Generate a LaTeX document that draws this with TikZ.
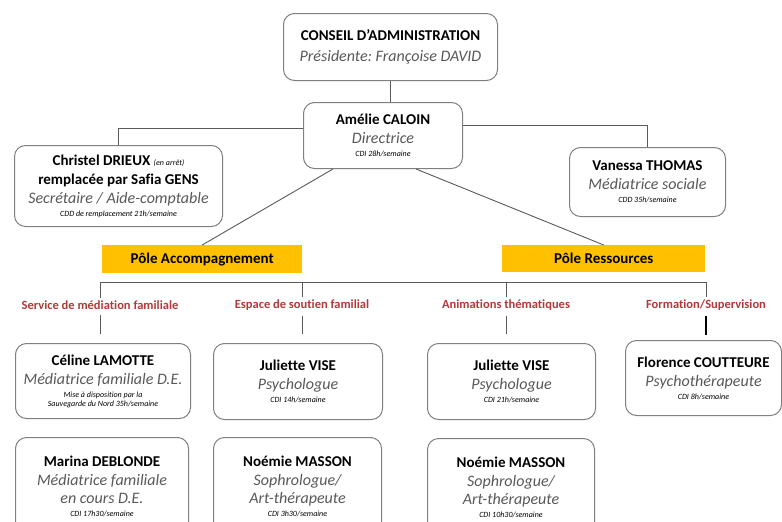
\documentclass[tikz,border=0pt]{standalone}
\usepackage{fontspec}
\setmainfont{Carlito}[Ligatures=NoCommon]
\definecolor{rolegray}{HTML}{595959}
\definecolor{linegray}{HTML}{5A5A5A}
\definecolor{boxgray}{HTML}{808080}
\definecolor{polegold}{HTML}{FFC000}
\definecolor{labred}{HTML}{B03A3A}
\newcommand\nm[1]{{\fontsize{15}{19}\selectfont\bfseries #1}}
\newcommand\rl[1]{{\fontsize{16}{19}\selectfont\itshape\color{rolegray}#1}}
\newcommand\sm[1]{{\fontsize{8}{9}\selectfont\itshape #1}}
\frenchspacing
\begin{document}
\begin{tikzpicture}[x=1pt,y=-1pt,
  pbox/.style={draw=boxgray,line width=1pt,rounded corners=11pt,align=center,anchor=north west,inner sep=0pt,fill=white,font=\fontsize{15}{19}\selectfont},
  pole/.style={fill=polegold,anchor=north west,inner sep=0pt,font=\fontsize{15}{17}\selectfont\bfseries},
  lab/.style={text=labred,font=\fontsize{12.5}{14}\selectfont\bfseries,inner sep=2pt},
  conn/.style={draw=linegray,line width=0.9pt}]
\useasboundingbox (0,0) rectangle (782,522);
\fill[white] (0,0) rectangle (782,522);

% top
\node[pbox,minimum width=214pt,minimum height=67pt] (cons) at (283,13)
  {\nm{CONSEIL D’ADMINISTRATION}\\[2pt]\rl{Présidente: Françoise DAVID}};
\node[pbox,minimum width=159pt,minimum height=66pt] (amel) at (303,102)
  {\nm{Amélie CALOIN}\\\rl{Directrice}\\[-6pt]\sm{CDI 28h/semaine}};
\node[pbox,minimum width=208pt,minimum height=81pt] (chr) at (14,145)
  {\nm{Christel DRIEUX} \sm{(en arrêt)}\\\nm{remplacée par Safia GENS}\\\rl{Secrétaire / Aide-comptable}\\[-6pt]\sm{CDD de remplacement 21h/semaine}};
\node[pbox,minimum width=156pt,minimum height=69pt] (van) at (569,147)
  {\nm{Vanessa THOMAS}\\\rl{Médiatrice sociale}\\[-6pt]\sm{CDD 35h/semaine}};

% poles
\node[pole,minimum width=200pt,minimum height=28pt] (pa) at (102,245) {Pôle Accompagnement};
\node[pole,minimum width=203pt,minimum height=27pt] (pr) at (502,245) {Pôle Ressources};

% labels
\node[lab] (svc) at (100,305) {Service de médiation familiale};
\node[lab] (esp) at (302,305) {Espace de soutien familial};
\node[lab] (anim) at (506,305) {Animations thématiques};
\node[lab] (form) at (706,305) {Formation/Supervision};

% row 1
\node[pbox,minimum width=175pt,minimum height=75pt] (cel) at (15,343)
  {\nm{Céline LAMOTTE}\\\rl{Médiatrice familiale D.E.}\\[-6pt]\sm{Mise à disposition par la}\\[-10pt]\sm{Sauvegarde du Nord 35h/semaine}};
\node[pbox,minimum width=169pt,minimum height=76pt] (jul1) at (213,343)
  {\nm{Juliette VISE}\\\rl{Psychologue}\\[-6pt]\sm{CDI 14h/semaine}};
\node[pbox,minimum width=168pt,minimum height=76pt] (jul2) at (427,343)
  {\nm{Juliette VISE}\\\rl{Psychologue}\\[-6pt]\sm{CDI 21h/semaine}};
\node[pbox,minimum width=156pt,minimum height=75pt] (flo) at (625,340)
  {\nm{Florence COUTTEURE}\\\rl{Psychothérapeute}\\[-6pt]\sm{CDI 8h/semaine}};

% row 2 (cut by the page edge)
\node[pbox,minimum width=173pt,minimum height=98pt] (mar) at (15,437)
  {\nm{Marina DEBLONDE}\\\rl{Médiatrice familiale}\\[-1pt]\rl{en cours D.E.}\\[-6pt]\sm{CDI 17h30/semaine}};
\node[pbox,minimum width=168pt,minimum height=98pt] (noe1) at (213,437)
  {\nm{Noémie MASSON}\\\rl{Sophrologue/}\\[-1pt]\rl{Art-thérapeute}\\[-6pt]\sm{CDI 3h30/semaine}};
\node[pbox,minimum width=167pt,minimum height=97pt] (noe2) at (427,438)
  {\nm{Noémie MASSON}\\\rl{Sophrologue/}\\[-1pt]\rl{Art-thérapeute}\\[-6pt]\sm{CDI 10h30/semaine}};

% connectors
\draw[conn] (cons.south) -- (cons.south |- amel.north);
\draw[conn] ([yshift=7pt]amel.west) -| (chr.north);
\draw[conn] ([yshift=10pt]amel.east) -| (van.north);
\draw[conn] ([xshift=-50pt]amel.south) -- (pa.north);
\draw[conn] ([xshift=33pt]amel.south) -- (pr.north);

\coordinate (b1) at (100,282);
\coordinate (b2) at (302,282);
\coordinate (b3) at (506,282);
\coordinate (b4) at (706,282);
\draw[conn] (svc.north) -- (b1) -- (b4) -- (form.north);
\draw[conn] (esp.north) -- (b2);
\draw[conn] (anim.north) -- (b3);

\coordinate (d1) at (100,334);
\coordinate (d2) at (302,334);
\coordinate (d3) at (506,334);
\coordinate (d4) at (706,335);
\draw[conn,shorten <=3pt] (svc.south) -- (d1);
\draw[conn,shorten <=3pt] (esp.south) -- (d2);
\draw[conn,shorten <=3pt] (anim.south) -- (d3);
\draw[draw=black,line width=1.5pt,shorten <=3pt] (form.south) -- (d4);
\end{tikzpicture}
\end{document}
